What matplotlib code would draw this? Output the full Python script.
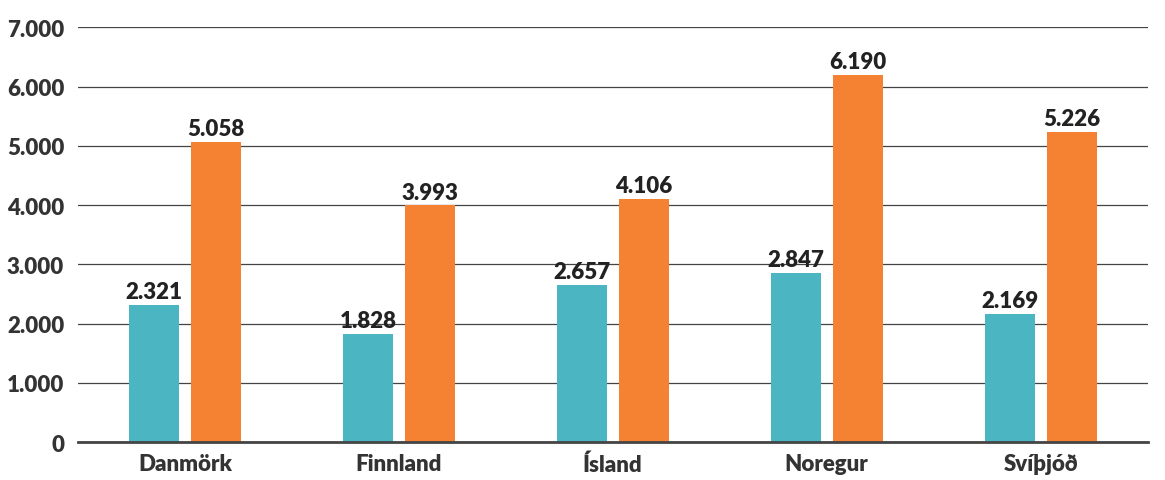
import numpy as np
import matplotlib.pyplot as plt

plt.rcParams['font.family'] = ['Lato', 'DejaVu Sans']

countries = ['Danmörk', 'Finnland', 'Ísland', 'Noregur', 'Svíþjóð']
series_a = [2321, 1828, 2657, 2847, 2169]
series_b = [5058, 3993, 4106, 6190, 5226]
yticks = [0, 1000, 2000, 3000, 4000, 5000, 6000, 7000]
ytick_labels = ['0', '1.000', '2.000', '3.000', '4.000', '5.000', '6.000', '7.000']

teal = '#4BB5C1'
orange = '#F58233'

fig = plt.figure(figsize=(11.65, 4.81), dpi=100)
ax = fig.add_axes([0.067, 0.079, 0.918, 0.862])

x = np.arange(len(countries))
w = 0.234
off = 0.145
bars_a = ax.bar(x - off, series_a, w, color=teal, zorder=3)
bars_b = ax.bar(x + off, series_b, w, color=orange, zorder=3)

def fmt(v):
    return f"{v:,}".replace(',', '.')

for bars, vals in [(bars_a, series_a), (bars_b, series_b)]:
    for b, v in zip(bars, vals):
        ax.text(b.get_x() + b.get_width() / 2, v + 50, fmt(v), ha='center', va='bottom',
                fontsize=16, fontweight='heavy', color='#222222')

ax.set_xlim(-0.5, 4.5)
ax.set_ylim(0, 7000)
ax.set_yticks(yticks)
ax.set_yticklabels(ytick_labels)
ax.set_xticks(x)
ax.set_xticklabels(countries)
for lab in ax.get_xticklabels() + ax.get_yticklabels():
    lab.set_fontweight('heavy')
    lab.set_fontsize(16)
    lab.set_color('#333333')

ax.grid(axis='y', color='#444444', linewidth=0.9, zorder=0)
ax.tick_params(axis='both', length=0)
ax.tick_params(axis='y', pad=10)
ax.tick_params(axis='x', pad=8)
for s in ['top', 'right', 'left']:
    ax.spines[s].set_visible(False)
ax.spines['bottom'].set_color('#444444')
ax.spines['bottom'].set_linewidth(2)
ax.spines['bottom'].set_zorder(4)

fig.savefig('out.png', dpi=100)
